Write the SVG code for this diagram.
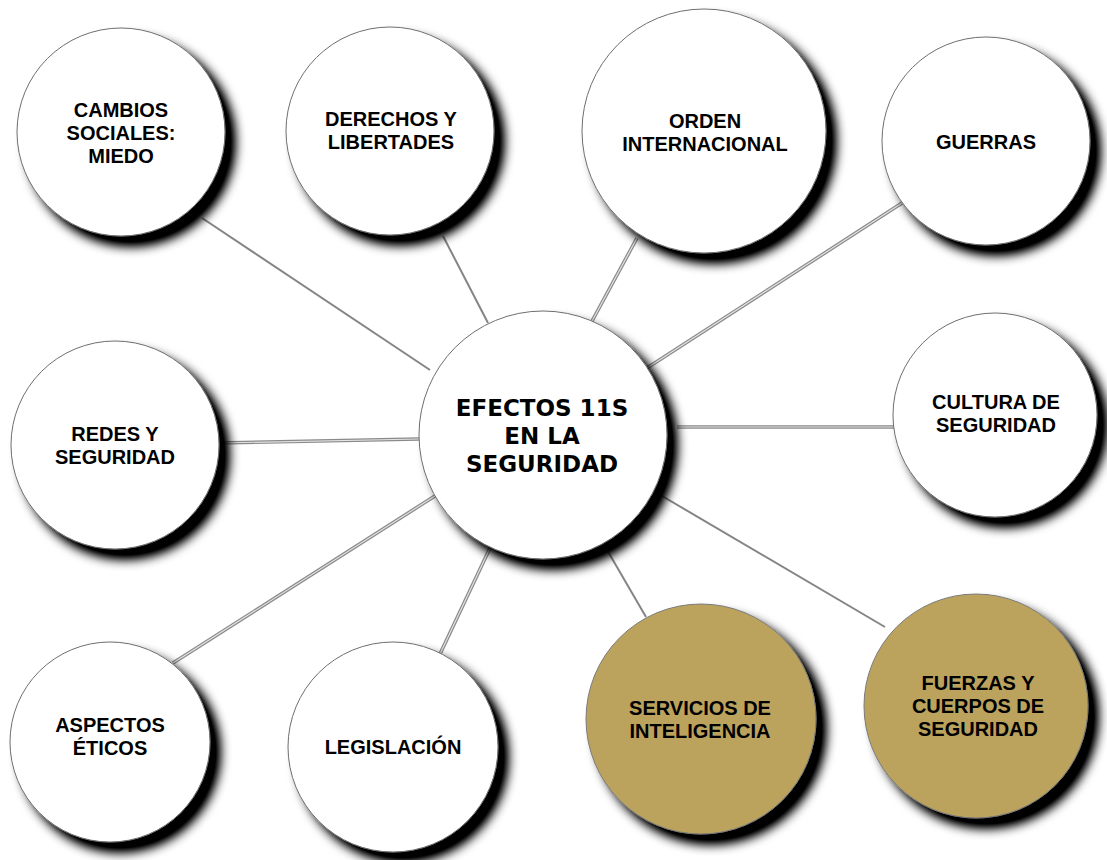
<svg xmlns="http://www.w3.org/2000/svg" width="1107" height="860" viewBox="0 0 1107 860">
<defs>
<filter id="sh" x="-20%" y="-20%" width="150%" height="150%">
<feGaussianBlur in="SourceAlpha" stdDeviation="5.5"/>
<feOffset dx="10" dy="10" result="o"/>
<feComponentTransfer><feFuncA type="linear" slope="1.25"/></feComponentTransfer>
<feMerge><feMergeNode/><feMergeNode in="SourceGraphic"/></feMerge>
</filter>
</defs>
<style>
.c{fill:#ffffff;stroke:#6e6e6e;stroke-width:1;filter:url(#sh)}
.g{fill:#bca35d;stroke:#7a7a7a;stroke-width:1;filter:url(#sh)}
.t{font-family:"Liberation Sans",Arial,sans-serif;font-weight:bold;font-size:20px;fill:#000;text-anchor:middle}
.tc{font-family:"DejaVu Sans",Verdana,sans-serif;font-weight:bold;font-size:23px;fill:#000;text-anchor:middle}
.s{stroke:#858585;stroke-width:2;fill:none}
.d{stroke:#8a8a8a;stroke-width:3.6;fill:none}
.di{stroke:#e2e2e2;stroke-width:1.2;fill:none}
</style>
<rect width="1107" height="860" fill="#ffffff"/>
<g id="connectors">
<line class="s" x1="202" y1="218" x2="430" y2="370"/>
<line class="s" x1="443" y1="236" x2="488" y2="323"/>
<line class="d" x1="637" y1="238" x2="591" y2="323"/><line class="di" x1="637" y1="238" x2="591" y2="323"/>
<line class="d" x1="902" y1="203" x2="647" y2="368"/><line class="di" x1="902" y1="203" x2="647" y2="368"/>
<line class="d" x1="218" y1="443" x2="419" y2="439"/><line class="di" x1="218" y1="443" x2="419" y2="439"/>
<line class="d" x1="677" y1="427" x2="895" y2="427"/><line class="di" x1="677" y1="427" x2="895" y2="427"/>
<line class="d" x1="173" y1="663" x2="438" y2="494"/><line class="di" x1="173" y1="663" x2="438" y2="494"/>
<line class="d" x1="440" y1="654" x2="490" y2="548"/><line class="di" x1="440" y1="654" x2="490" y2="548"/>
<line class="s" x1="646" y1="617" x2="603" y2="543"/>
<line class="s" x1="885" y1="627" x2="657" y2="493"/>
</g>
<g id="cambios"><circle class="c" cx="121" cy="132" r="104"/><text class="t" x="121" y="117">CAMBIOS</text><text class="t" x="121" y="140">SOCIALES:</text><text class="t" x="121" y="163">MIEDO</text></g>
<g id="derechos"><circle class="c" cx="390" cy="131" r="104"/><text class="t" x="391" y="126">DERECHOS Y</text><text class="t" x="391" y="149">LIBERTADES</text></g>
<g id="orden"><circle class="c" cx="704" cy="131" r="122"/><text class="t" x="705" y="128">ORDEN</text><text class="t" x="705" y="151">INTERNACIONAL</text></g>
<g id="guerras"><circle class="c" cx="986" cy="141" r="104"/><text class="t" x="986" y="149">GUERRAS</text></g>
<g id="redes"><circle class="c" cx="115" cy="445" r="104"/><text class="t" x="115" y="441">REDES Y</text><text class="t" x="115" y="464">SEGURIDAD</text></g>
<g id="centro"><circle class="c" cx="543" cy="435" r="124"/><text class="tc" x="542" y="416">EFECTOS 11S</text><text class="tc" x="542" y="444">EN LA</text><text class="tc" x="542" y="472">SEGURIDAD</text></g>
<g id="cultura"><circle class="c" cx="995" cy="415" r="102"/><text class="t" x="996" y="409">CULTURA DE</text><text class="t" x="996" y="432">SEGURIDAD</text></g>
<g id="aspectos"><circle class="c" cx="110" cy="742" r="100"/><text class="t" x="110" y="732">ASPECTOS</text><text class="t" x="110" y="755">ÉTICOS</text></g>
<g id="legislacion"><circle class="c" cx="393" cy="747" r="105"/><text class="t" x="393" y="754">LEGISLACIÓN</text></g>
<g id="servicios"><circle class="g" cx="701" cy="719" r="115"/><text class="t" x="700" y="715">SERVICIOS DE</text><text class="t" x="700" y="738">INTELIGENCIA</text></g>
<g id="fuerzas"><circle class="g" cx="976" cy="706" r="112"/><text class="t" x="978" y="690">FUERZAS Y</text><text class="t" x="978" y="713">CUERPOS DE</text><text class="t" x="978" y="736">SEGURIDAD</text></g>
</svg>
